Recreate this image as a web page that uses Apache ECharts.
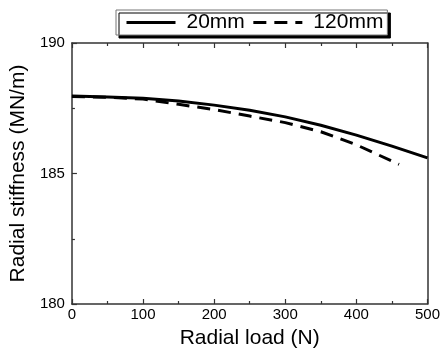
<!DOCTYPE html>
<html><head><meta charset="utf-8">
<script src="https://cdn.jsdelivr.net/npm/echarts@6/dist/echarts.min.js"></script>
<style>html,body{margin:0;padding:0;background:#fff}#c{width:443px;height:354px}</style>
</head><body><div id="c"></div>
<script>
var loads20 = [0, 50, 100, 150, 200, 250, 300, 350, 400, 450, 500];
var stiff20 = [187.97, 187.93, 187.88, 187.78, 187.62, 187.42, 187.17, 186.85, 186.47, 186.05, 185.6];
var loads120 = [0, 50, 100, 150, 200, 250, 300, 350, 400, 460];
var stiff120 = [187.95, 187.92, 187.85, 187.65, 187.45, 187.2, 186.95, 186.6, 186.1, 185.35];
var seriesNames = ['20mm', '120mm'];
var xTicks = [0, 100, 200, 300, 400, 500];
var yTicks = [180, 185, 190];

function pairs(xs, ys){ return xs.map(function(x,i){ return [x, ys[i]]; }); }
var font = 'Liberation Sans, Arial, sans-serif';
var axisCol = '#333';
var chart = echarts.init(document.getElementById('c'), null, {renderer:'canvas'});
chart.setOption({
  animation: false,
  backgroundColor: '#fff',
  grid: {left: 70, right: 14, top: 43, bottom: 48, containLabel: false},
  legend: {
    data: seriesNames,
    left: 116, top: 10,
    padding: [2, 4, 2, 9],
    itemWidth: 49, itemHeight: 20, itemGap: 7,
    backgroundColor: '#fff', borderColor: '#777', borderWidth: 1,
    shadowColor: '#000', shadowBlur: 0, shadowOffsetX: 3, shadowOffsetY: 3,
    itemStyle: {opacity: 0},
    lineStyle: {width: 3, color: '#000'},
    textStyle: {fontFamily: font, fontSize: 21, color: '#000', padding: [0, 0, 0, 6]}
  },
  xAxis: [{
    type: 'value', min: 0, max: 500, interval: 100,
    name: 'Radial load (N)', nameLocation: 'middle', nameGap: 24,
    nameTextStyle: {fontFamily: font, fontSize: 21, color: '#000'},
    axisLine: {show: true, onZero: false, lineStyle: {color: axisCol, width: 1.5}},
    axisTick: {show: true, inside: true, length: 5, lineStyle: {color: axisCol, width: 1.2}},
    minorTick: {show: true, splitNumber: 2, length: 3, lineStyle: {color: axisCol, width: 1.2}},
    axisLabel: {fontFamily: font, fontSize: 15, color: '#000', margin: 3,
      formatter: function(v){ return xTicks.indexOf(v) >= 0 ? String(v) : ''; }},
    splitLine: {show: false}
  }, {
    type: 'value', min: 0, max: 500, interval: 100, position: 'top',
    axisLine: {show: true, onZero: false, lineStyle: {color: axisCol, width: 1.5}},
    axisTick: {show: true, inside: true, length: 5, lineStyle: {color: axisCol, width: 1.2}},
    minorTick: {show: true, splitNumber: 2, length: 3, lineStyle: {color: axisCol, width: 1.2}},
    axisLabel: {show: false}, splitLine: {show: false}
  }],
  yAxis: [{
    type: 'value', min: 180, max: 190, interval: 5,
    name: 'Radial stiffness (MN/m)', nameLocation: 'middle', nameGap: 36,
    nameTextStyle: {fontFamily: font, fontSize: 21, color: '#000'},
    axisLine: {show: true, onZero: false, lineStyle: {color: axisCol, width: 1.5}},
    axisTick: {show: true, inside: true, length: 5, lineStyle: {color: axisCol, width: 1.2}},
    minorTick: {show: true, splitNumber: 2, length: 3, lineStyle: {color: axisCol, width: 1.2}},
    axisLabel: {fontFamily: font, fontSize: 15, color: '#000', margin: 7,
      formatter: function(v){ return yTicks.indexOf(v) >= 0 ? String(v) : ''; }},
    splitLine: {show: false}
  }, {
    type: 'value', min: 180, max: 190, interval: 5, position: 'right',
    axisLine: {show: true, onZero: false, lineStyle: {color: axisCol, width: 1.5}},
    axisTick: {show: false}, axisLabel: {show: false}, splitLine: {show: false}
  }],
  series: [{
    name: seriesNames[0], type: 'line', data: pairs(loads20, stiff20),
    showSymbol: false, symbol: 'none', smooth: false,
    lineStyle: {color: '#000', width: 3}, itemStyle: {color: '#000'}
  }, {
    name: seriesNames[1], type: 'line', data: pairs(loads120, stiff120),
    showSymbol: false, symbol: 'none', smooth: false,
    lineStyle: {color: '#000', width: 3, type: [13, 8]}, itemStyle: {color: '#000'}
  }]
});
</script></body></html>
